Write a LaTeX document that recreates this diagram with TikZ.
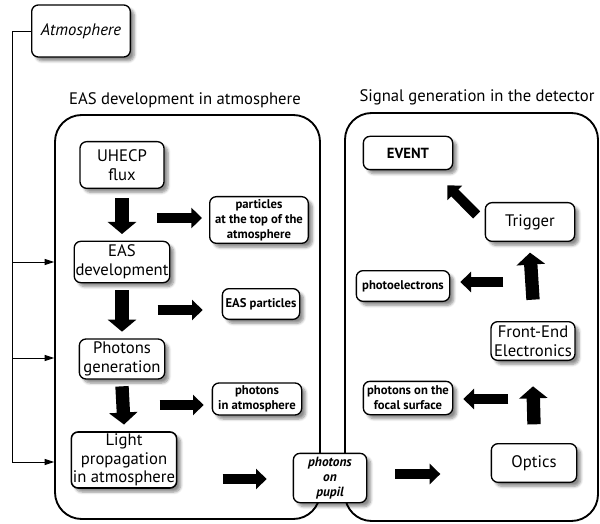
\documentclass[tikz,border=0pt]{standalone}
\usepackage{fontspec}
\setmainfont{PT Sans}
\usepackage{tikz}
\usetikzlibrary{calc,arrows.meta,positioning,shadows.blur}

\begin{document}
\begin{tikzpicture}[x=0.75pt,y=-0.75pt,
  stage/.style={draw, line width=1pt, rounded corners=5pt, fill=white, align=center, inner sep=1pt,
    font=\fontsize{12.5}{14}\selectfont,
    blur shadow={shadow xshift=3pt, shadow yshift=-3pt, shadow blur steps=6, shadow opacity=45}},
  product/.style={stage, font=\fontsize{9.5}{11.2}\selectfont\bfseries},
  panel/.style={draw, line width=1.4pt, rounded corners=20pt},
  fatDown/.style={line width=10pt, -{Triangle[length=9pt,width=21pt]}},
  fatSide/.style={line width=7.5pt, -{Triangle[length=8pt,width=15pt]}},
  feed/.style={line width=0.7pt}
]
\useasboundingbox (0,0) rectangle (600,524);

% the two blocks
\node[panel, minimum width=198.75pt, minimum height=303pt] (easPanel) at (187.5,317) {};
\node[panel, minimum width=189.75pt, minimum height=306pt] (detPanel) at (471.5,317) {};
\node[font=\fontsize{12.5}{14}\selectfont] at (185,100) {EAS development in atmosphere};
\node[font=\fontsize{12.5}{14}\selectfont] at (477,97) {Signal generation in the detector};

% atmosphere feeds the shower chain
\node[stage, minimum width=74pt, minimum height=39pt, font=\fontsize{12.5}{14}\selectfont\itshape] (atm) at (81,31) {Atmosphere};
\coordinate (bus) at (12,462);
\draw[feed] (atm.west) -| (bus);
\foreach \yy in {262,358,462}
  \draw[feed, -{Triangle[length=7pt,width=4.5pt]}] (12,\yy) -- (easPanel.west |- 0,\yy);

% EAS chain
\node[stage, minimum width=63pt, minimum height=35pt] (uhecp) at (122,165) {UHECP\\flux};
\node[stage, minimum width=67pt, minimum height=31pt] (easDev) at (122,262) {EAS\\development};
\node[stage, minimum width=64pt, minimum height=30pt] (phGen) at (122,359) {Photons\\generation};
\node[stage, minimum width=79pt, minimum height=42pt, line width=1.2pt] (lightProp) at (124,460) {Light\\propagation\\in atmosphere};

\node[product, minimum width=74pt, minimum height=35pt] (pTop) at (259,220) {particles\\at the top of the\\atmosphere};
\node[product, minimum width=58pt, minimum height=23pt] (easPart) at (261,304) {EAS particles};
\node[product, minimum width=67pt, minimum height=24pt] (phAtm) at (257,399) {photons\\in atmosphere};
\node[product, minimum width=55pt, minimum height=37pt, font=\fontsize{10}{11.5}\selectfont\bfseries\itshape] (pupil) at (330,478) {photons\\on\\pupil};

\draw[fatDown] ([yshift=-7pt]uhecp.south) -- ([yshift=5pt]easDev.north);
\draw[fatDown] ([yshift=-5pt]easDev.south) -- ([yshift=5pt]phGen.north);
\draw[fatDown] ([yshift=-5pt]phGen.south) -- ([yshift=5pt]lightProp.north);
\draw[fatSide] ($(pTop.west)+(-52,-2)$) -- ($(pTop.west)+(-7,-2)$);
\draw[fatSide] ($(easPart.west)+(-64,6)$) -- ($(easPart.west)+(-19,6)$);
\draw[fatSide] ($(phAtm.west)+(-52,6)$) -- ($(phAtm.west)+(-8,6)$);
\draw[fatSide] ($(pupil.west)+(-70,1)$) -- ($(pupil.west)+(-26,1)$);

% detector chain
\node[stage, minimum width=64pt, minimum height=29pt] (optics) at (534,463) {Optics};
\node[stage, minimum width=63pt, minimum height=29pt] (feElec) at (533,341) {Front-End\\Electronics};
\node[stage, minimum width=67pt, minimum height=29pt] (trig) at (530,222) {Trigger};
\node[stage, minimum width=67pt, minimum height=25pt, font=\fontsize{11}{13}\selectfont\bfseries] (event) at (408,153) {EVENT};
\node[product, minimum width=67pt, minimum height=25pt] (focal) at (408,398) {photons on the\\focal surface};
\node[product, minimum width=70pt, minimum height=23pt] (phEl) at (403,286) {photoelectrons};

\draw[fatSide] ($(pupil.east)+(28,-4)$) -- ($(pupil.east)+(73,-4)$);
\draw[fatDown] ([yshift=14pt]optics.north) -- ([yshift=-19pt]feElec.south);
\draw[fatDown] ([yshift=16pt]feElec.north) -- ([yshift=-8pt]trig.south);
\draw[fatSide] ($(focal.east)+(55,1)$) -- ($(focal.east)+(10,1)$);
\draw[fatSide] ($(phEl.east)+(53,-4)$) -- ($(phEl.east)+(10,-4)$);
\draw[fatSide] ($(trig.west)+(-8,-7)$) -- ($(event.south east)+(-6,15)$);
\end{tikzpicture}
\end{document}
